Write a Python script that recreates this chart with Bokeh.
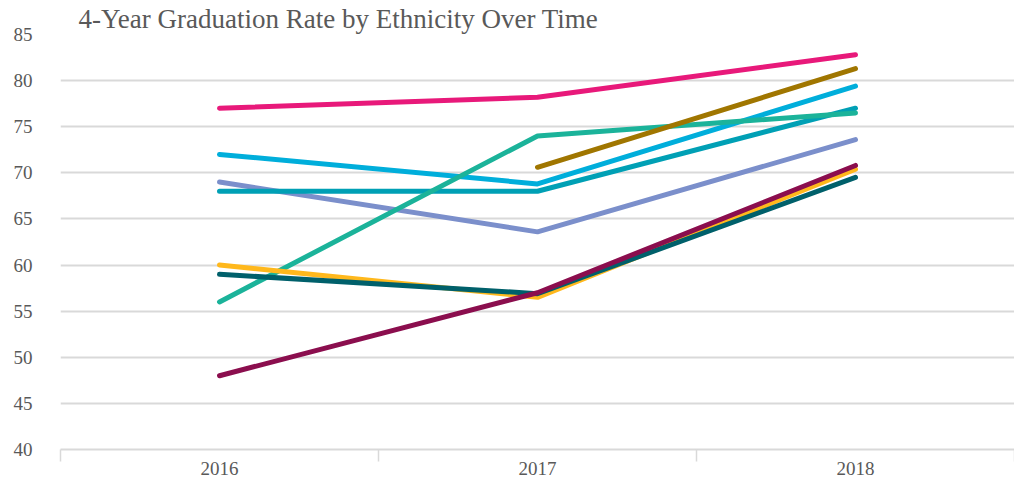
from bokeh.plotting import figure
from bokeh.models import FixedTicker, Range1d
from bokeh.embed import file_html
from bokeh.resources import INLINE

title_text = "4-Year Graduation Rate by Ethnicity Over Time"
years = ["2016", "2017", "2018"]
y_ticks = [40, 45, 50, 55, 60, 65, 70, 75, 80, 85]

nan = float("nan")
series_a = [77.0, 78.2, 82.8]   # pink
series_b = [nan, 70.6, 81.3]    # gold
series_c = [72.0, 68.8, 79.4]   # cyan
series_d = [68.0, 68.0, 77.0]   # teal blue
series_e = [56.0, 74.0, 76.5]   # green teal
series_f = [69.0, 63.6, 73.6]   # lavender
series_g = [60.0, 56.5, 70.4]   # yellow
series_h = [59.0, 56.9, 69.5]   # dark teal
series_i = [48.0, 57.0, 70.8]   # maroon

series = [
    (series_f, "#7B8FCB"),
    (series_c, "#00AEDB"),
    (series_d, "#00A0B5"),
    (series_e, "#1BB39A"),
    (series_b, "#A07600"),
    (series_a, "#E8197A"),
    (series_g, "#FFB81C"),
    (series_h, "#00606B"),
    (series_i, "#8B0E4E"),
]

xs = [i + 0.5 for i in range(len(years))]

p = figure(width=1014, height=477, output_backend="svg", toolbar_location=None,
           x_range=Range1d(0, len(years)), y_range=Range1d(40, 85),
           min_border_left=60, min_border_right=0, min_border_top=4, min_border_bottom=0)

p.title.text = title_text
p.title.text_font = "Liberation Serif"
p.title.text_font_size = "27px"
p.title.text_font_style = "normal"
p.title.text_color = "#595959"
p.title.offset = 18
p.title.standoff = 2

p.outline_line_color = None
p.background_fill_color = "white"

for vals, color in series:
    p.line(xs, vals, line_color=color, line_width=5, line_cap="round", line_join="round")

# y axis
p.yaxis.ticker = FixedTicker(ticks=y_ticks)
p.yaxis.axis_line_color = None
p.yaxis.major_tick_line_color = None
p.yaxis.minor_tick_line_color = None
p.yaxis.major_label_standoff = 22
p.yaxis.major_label_text_font = "Liberation Serif"
p.yaxis.major_label_text_font_size = "19px"
p.yaxis.major_label_text_color = "#595959"

# x axis
p.xaxis.ticker = FixedTicker(ticks=xs, minor_ticks=list(range(len(years) + 1)))
p.xaxis.major_label_overrides = {x: y for x, y in zip(xs, years)}
p.xaxis.axis_line_color = "#d9d9d9"
p.xaxis.axis_line_width = 2
p.xaxis.major_tick_line_color = None
p.xaxis.minor_tick_line_color = "#d9d9d9"
p.xaxis.minor_tick_line_width = 1.5
p.xaxis.minor_tick_in = 0
p.xaxis.minor_tick_out = 12
p.xaxis.major_label_standoff = 0
p.xaxis.major_label_text_font = "Liberation Serif"
p.xaxis.major_label_text_font_size = "19px"
p.xaxis.major_label_text_color = "#595959"

p.xgrid.grid_line_color = None
p.ygrid.grid_line_color = "#d9d9d9"
p.ygrid.grid_line_width = 2

open("out.html", "w").write(file_html(p, INLINE))
